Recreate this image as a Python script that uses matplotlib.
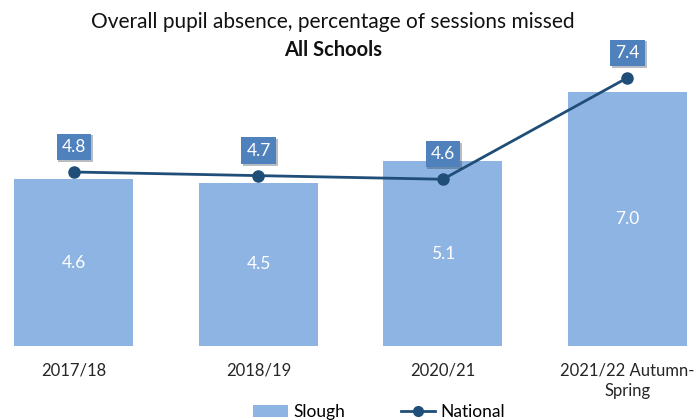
import matplotlib
matplotlib.use("Agg")
import matplotlib.pyplot as plt
from matplotlib.lines import Line2D
from matplotlib.patches import Patch
import matplotlib.patheffects as pe

categories = ["2017/18", "2018/19", "2020/21", "2021/22 Autumn-\nSpring"]
slough = [4.6, 4.5, 5.1, 7.0]
national = [4.8, 4.7, 4.6, 7.4]

bar_color = "#8EB4E3"
line_color = "#1F4E79"
box_color = "#4F81BD"

plt.rcParams['font.family'] = ['Lato', 'DejaVu Sans']

fig = plt.figure(figsize=(6.97, 4.2), dpi=100)
ax = fig.add_axes([0, 74/420, 1, 290/420])
x = list(range(len(categories)))
ax.bar(x, slough, width=0.645, color=bar_color, zorder=1)
ax.plot(x, national, color=line_color, lw=2, marker='o', ms=8, zorder=3)

for xi, v in zip(x, slough):
    ax.text(xi, v / 2, f"{v:.1f}", ha='center', va='center', color='white', fontsize=12.5, zorder=4)

for xi, v in zip(x, national):
    ax.annotate(f"{v:.1f}", (xi, v), xytext=(0, 18), textcoords='offset points',
                ha='center', va='center', color='white', fontsize=12.5, zorder=5,
                bbox=dict(boxstyle='square,pad=0.3', fc=box_color, ec='none',
                          path_effects=[pe.withSimplePatchShadow(offset=(1.2, -1.2), alpha=0.3)]))

ax.set_xlim(-0.401, 3.377)
ax.set_ylim(0, 8)
for s in ax.spines.values():
    s.set_visible(False)
ax.set_yticks([])
ax.set_xticks(x)
ax.set_xticklabels(categories, fontsize=12, color='#262626', va='top')
ax.tick_params(axis='x', length=0, pad=12)
for lbl in ax.get_xticklabels():
    lbl.set_multialignment('center')
    lbl.set_linespacing(1.35)

fig.text(0.478, 1 - 22/420, "Overall pupil absence, percentage of sessions missed", ha='center', va='center',
         fontsize=15, color='#111111')
fig.text(0.478, 1 - 50/420, "All Schools", ha='center', va='center', fontsize=14.5, fontweight='bold', color='#111111')

handles = [Patch(facecolor=bar_color, label='Slough'),
           Line2D([0], [0], color=line_color, lw=2, marker='o', ms=7, label='National')]
fig.legend(handles=handles, loc='center', bbox_to_anchor=(0.544, 8/420), ncol=2, frameon=False,
           fontsize=12.5, handlelength=2.0, columnspacing=3.2, handletextpad=0.3)

fig.savefig("out.png", dpi=100)
